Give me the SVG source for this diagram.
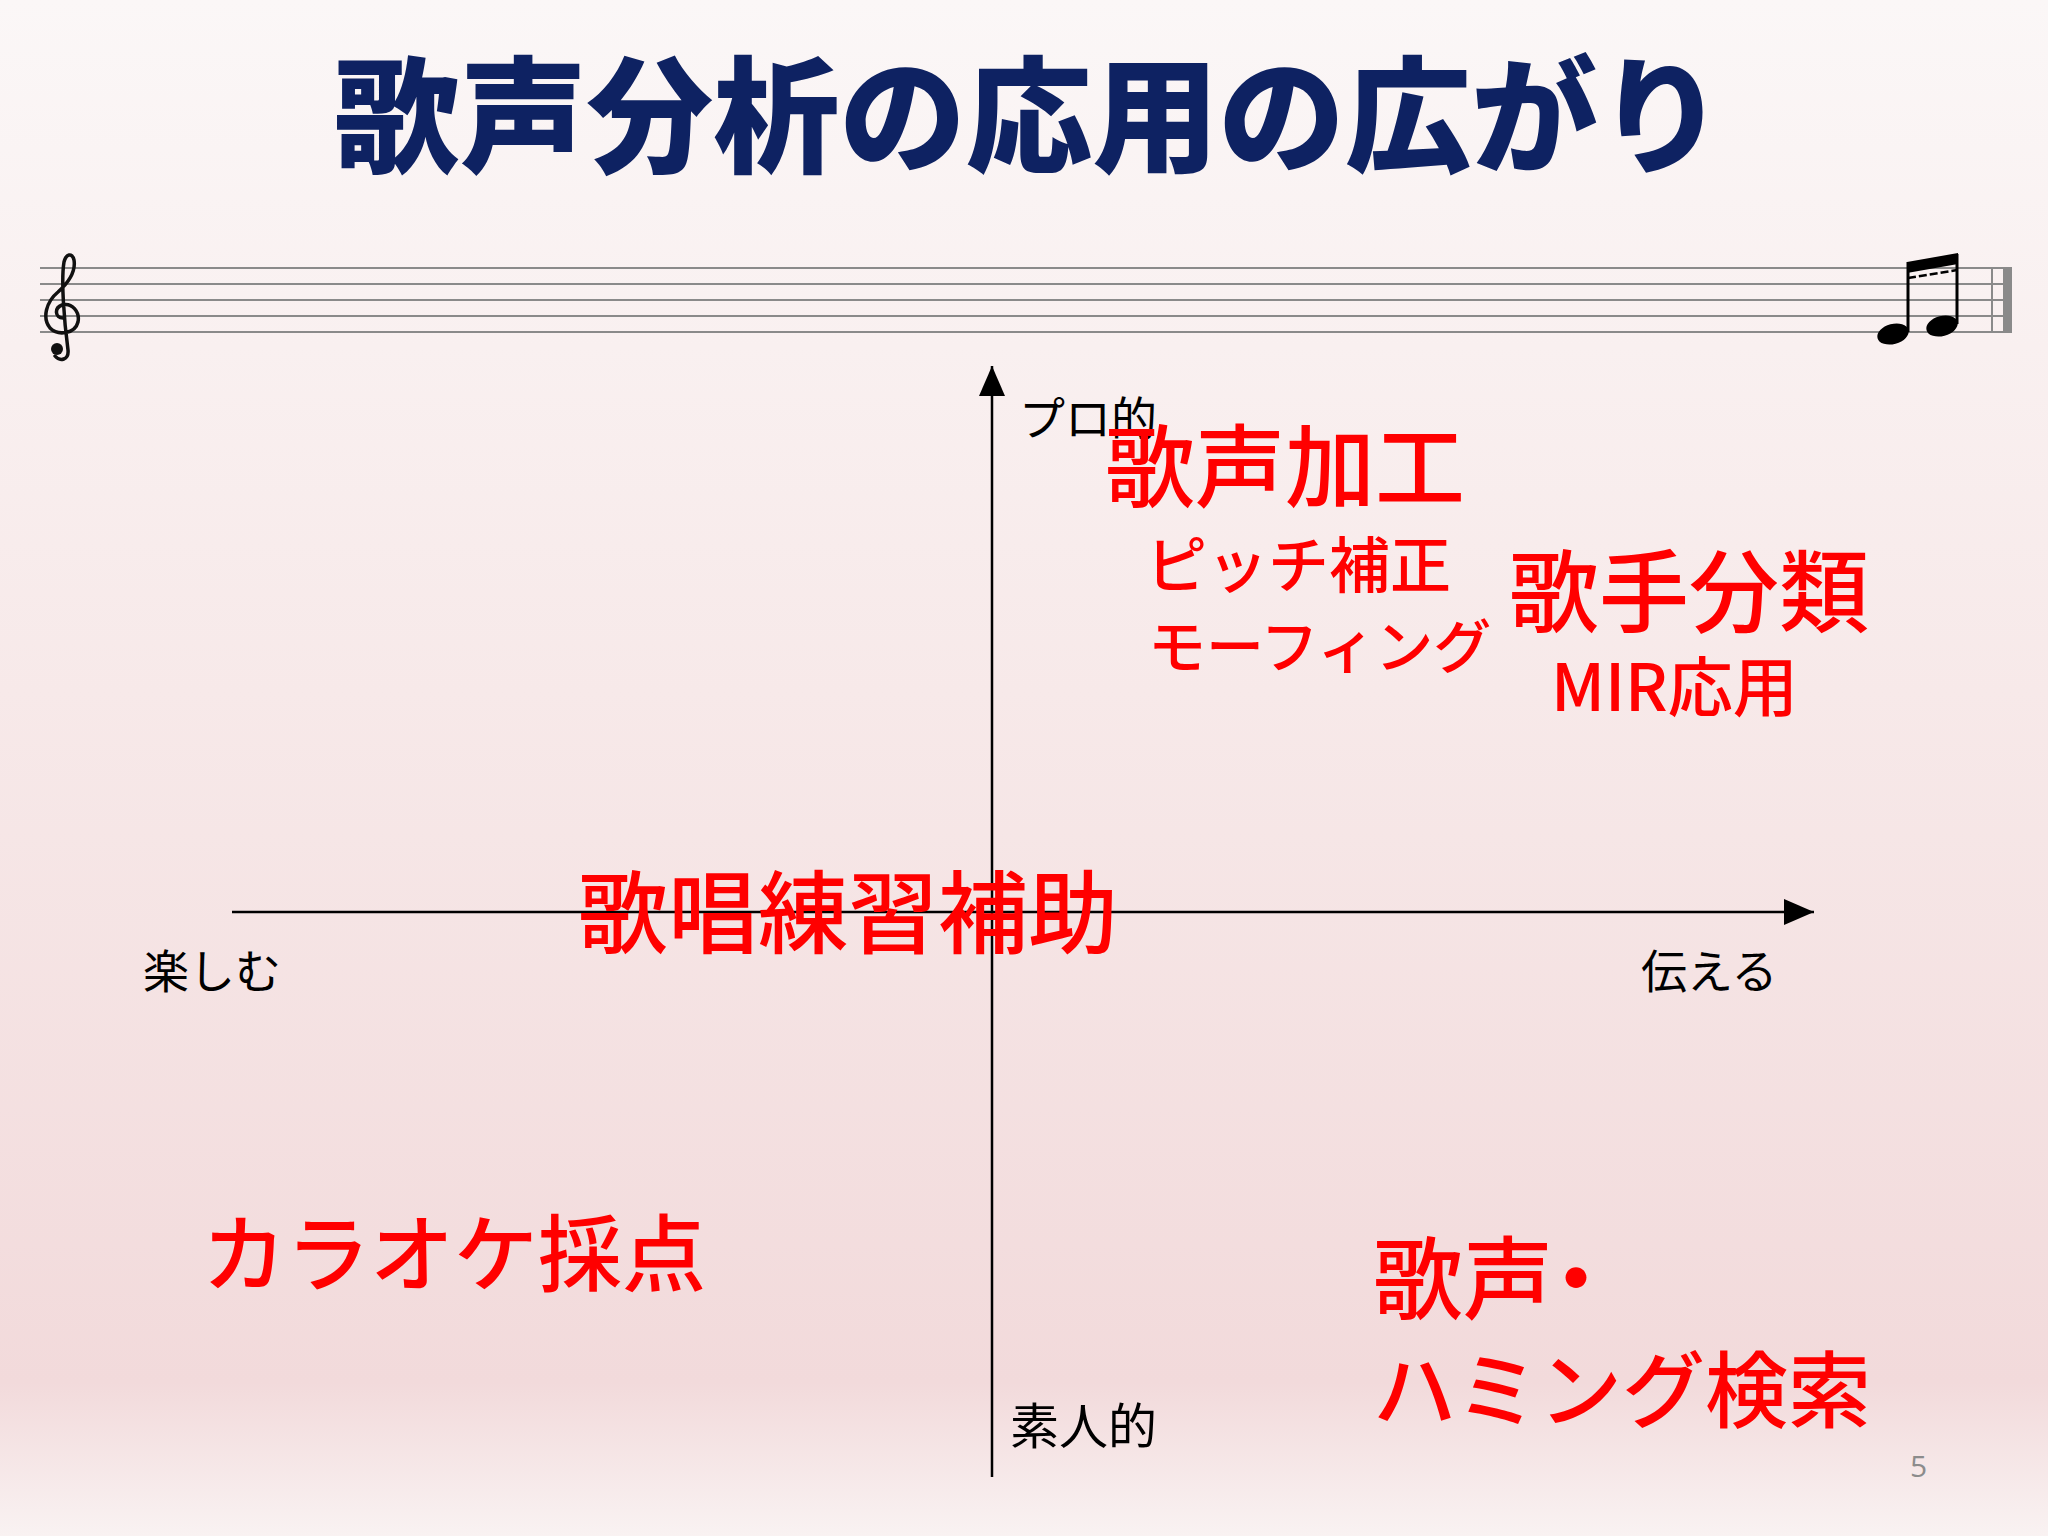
<svg xmlns="http://www.w3.org/2000/svg" width="2048" height="1536" viewBox="0 0 2048 1536">
  <defs>
    <linearGradient id="bg" x1="0" y1="0" x2="0" y2="1">
      <stop offset="0" stop-color="#fbf7f7"/>
      <stop offset="0.45" stop-color="#f7e9e9"/>
      <stop offset="0.9" stop-color="#f2dadb"/>
      <stop offset="1" stop-color="#f9f2f2"/>
    </linearGradient>
    <marker id="arrow" markerUnits="userSpaceOnUse" markerWidth="30" markerHeight="26" refX="30" refY="13" orient="auto">
      <path d="M0,0 L30,13 L0,26 Z" fill="#000"/>
    </marker>
    <style>
      .jp { font-family: "Noto Sans CJK JP", "Noto Sans", sans-serif; }
      .title { font-weight: 900; font-size: 126px; fill: #0e2262; }
      .axis-label { font-size: 46px; fill: #000; }
      .red { fill: #ff0000; font-weight: 500; }
      .staff { stroke: #8a8a8a; stroke-width: 2; }
      .axis { stroke: #000; stroke-width: 2.5; fill: none; }
    </style>
  </defs>

  <rect x="0" y="0" width="2048" height="1536" fill="url(#bg)"/>

  <g id="title">
    <text class="jp title" x="334" y="163" textLength="1390" lengthAdjust="spacingAndGlyphs">歌声分析の応用の広がり</text>
  </g>

  <g id="staff">
    <line class="staff" x1="40" y1="268" x2="2008" y2="268"/>
    <line class="staff" x1="40" y1="284" x2="2008" y2="284"/>
    <line class="staff" x1="40" y1="300" x2="2008" y2="300"/>
    <line class="staff" x1="40" y1="316" x2="2008" y2="316"/>
    <line class="staff" x1="40" y1="332" x2="2008" y2="332"/>
    <line x1="1992" y1="267" x2="1992" y2="333" stroke="#8a8a8a" stroke-width="2"/>
    <rect x="2003" y="267" width="9" height="66" fill="#8a8a8a"/>
    <!-- treble clef -->
    <path d="M63 318 C55 318 54 308 62 305 C72 302 80 312 78 322 C75 334 58 336 50 328 C42 318 46 302 58 292 C68 283 76 272 74 260 C72 252 66 254 64 262 C61 280 64 320 68 350 C69 360 60 362 55 356" fill="none" stroke="#111" stroke-width="3.5" stroke-linecap="round"/>
    <circle cx="57" cy="349" r="6" fill="#111"/>
    <!-- beamed notes -->
    <ellipse cx="1893" cy="334" rx="16" ry="10" transform="rotate(-15 1893 334)" fill="#000"/>
    <ellipse cx="1942" cy="326" rx="16" ry="10" transform="rotate(-15 1942 326)" fill="#000"/>
    <line x1="1908" y1="262" x2="1908" y2="332" stroke="#000" stroke-width="3"/>
    <line x1="1957" y1="254" x2="1957" y2="324" stroke="#000" stroke-width="3"/>
    <polygon points="1907,262 1958,253 1958,264 1907,273" fill="#000"/>
    <line x1="1908" y1="278" x2="1957" y2="270" stroke="#000" stroke-width="2.5" stroke-dasharray="8 3"/>
  </g>

  <g id="connectors">
    <line class="axis" x1="992" y1="1477" x2="992" y2="366" marker-end="url(#arrow)"/>
    <line class="axis" x1="232" y1="912" x2="1814" y2="912" marker-end="url(#arrow)"/>
  </g>

  <g id="label-pro"><text class="jp axis-label" x="1019" y="435">プロ的</text></g>
  <g id="label-amateur"><text class="jp axis-label" x="1010" y="1444" style="font-size:49px">素人的</text></g>
  <g id="label-enjoy"><text class="jp axis-label" x="143" y="988">楽しむ</text></g>
  <g id="label-convey"><text class="jp axis-label" x="1641" y="988">伝える</text></g>

  <g id="node-voice-processing">
    <text class="jp red" x="1105" y="500" font-size="90">歌声加工</text>
    <text class="jp red" x="1146" y="588" font-size="61">ピッチ補正</text>
    <text class="jp red" x="1148" y="668" font-size="58">モーフィング</text>
  </g>
  <g id="node-singer-classification">
    <text class="jp red" x="1509" y="625" font-size="90">歌手分類</text>
    <text class="jp red" x="1551" y="711" font-size="65">MIR応用</text>
  </g>
  <g id="node-singing-practice">
    <text class="jp red" x="578" y="946" font-size="90">歌唱練習補助</text>
  </g>
  <g id="node-karaoke">
    <text class="jp red" x="202" y="1285" font-size="84">カラオケ採点</text>
  </g>
  <g id="node-query-by-humming">
    <text class="jp red" x="1373" y="1312" font-size="90">歌声<tspan dx="-22">・</tspan></text>
    <text class="jp red" x="1373" y="1421" font-size="83">ハミング検索</text>
  </g>

  <g id="page-number">
    <text x="1910" y="1477" font-family="Open Sans, Liberation Sans, sans-serif" font-size="30" fill="#8c8c8c">5</text>
  </g>
</svg>
